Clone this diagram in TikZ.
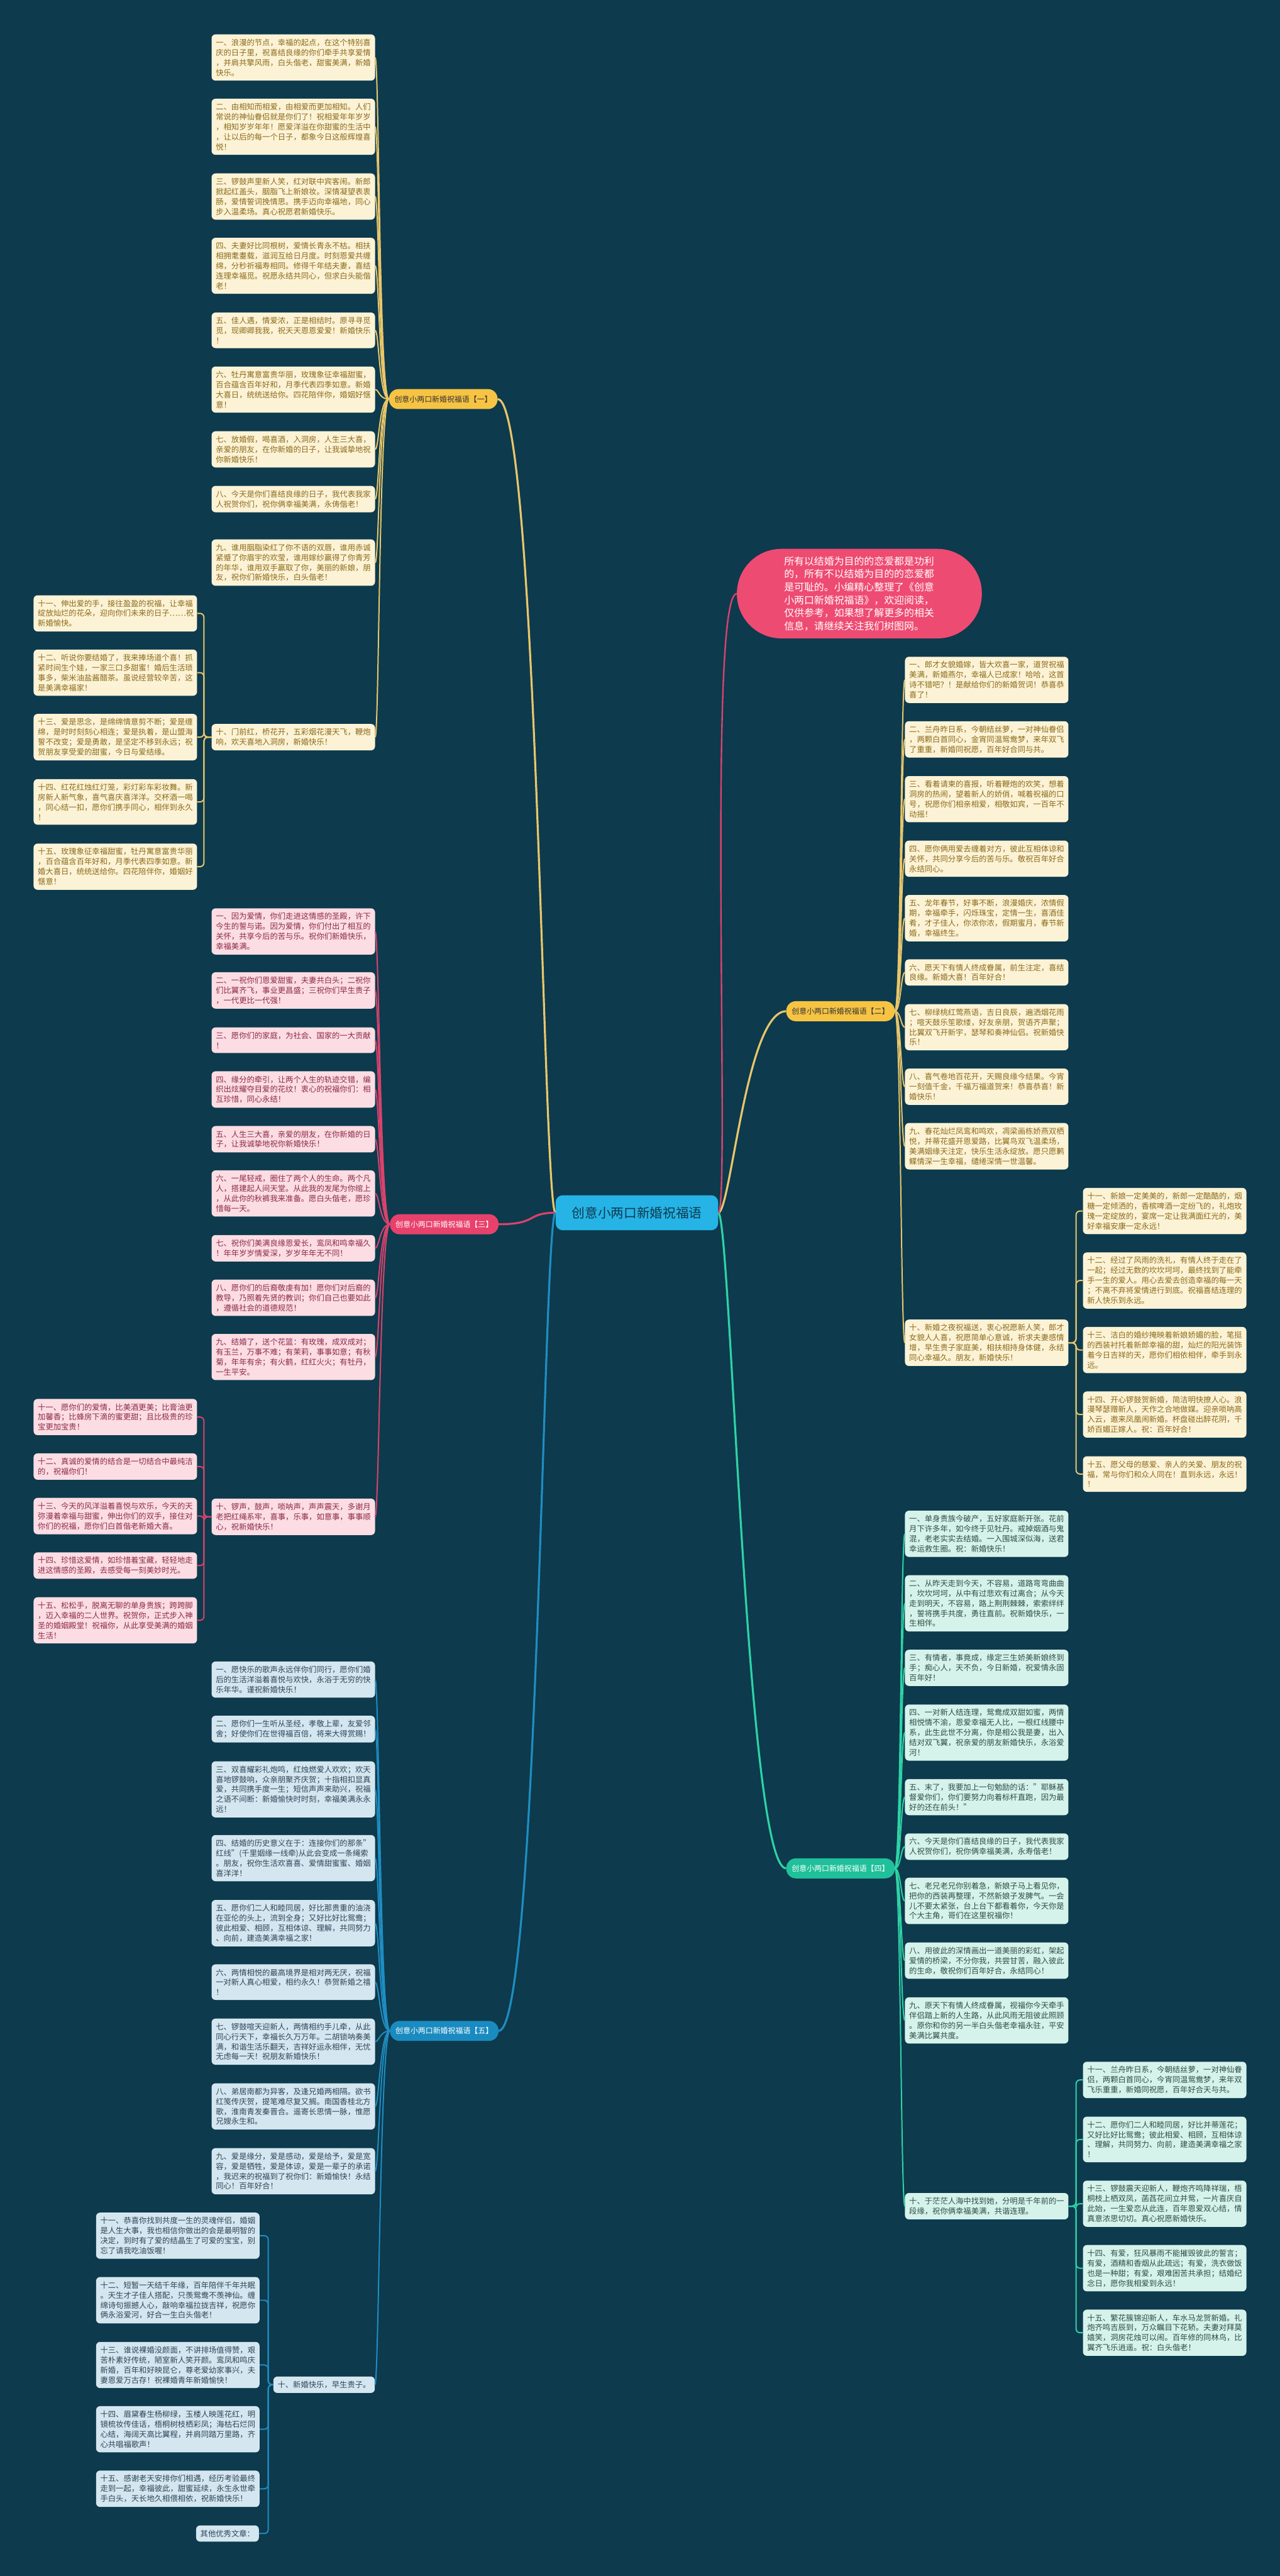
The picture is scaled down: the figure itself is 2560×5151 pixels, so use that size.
\documentclass[tikz,border=0pt]{standalone}
\usepackage{fontspec}
\setmainfont{Noto Sans CJK SC}
\definecolor{bg}{HTML}{0D3A4D}
\definecolor{fillY}{HTML}{FCF3D6}\definecolor{txtY}{HTML}{8C6A1A}\definecolor{conY}{HTML}{E9C66A}\definecolor{nodeY}{HTML}{F6C343}
\definecolor{fillP}{HTML}{FBDDE3}\definecolor{txtP}{HTML}{8E2A47}\definecolor{conP}{HTML}{D9436C}\definecolor{nodeP}{HTML}{E8426C}
\definecolor{fillG}{HTML}{D5F3EB}\definecolor{txtG}{HTML}{2F4B45}\definecolor{conG}{HTML}{2ED3A6}\definecolor{nodeG}{HTML}{1FC09A}
\definecolor{fillB}{HTML}{D4E7F0}\definecolor{txtB}{HTML}{2E4457}\definecolor{conB}{HTML}{1F8DC2}\definecolor{nodeB}{HTML}{1A8BC0}
\definecolor{ctrC}{HTML}{26B3E6}\definecolor{introP}{HTML}{EE4B72}
\tikzset{
 leaf/.style={rounded corners=8pt, text width=310pt, inner xsep=8.5pt, inner ysep=9pt, align=left, font=\fontsize{15.5}{20}\selectfont, anchor=west},
 shortleaf/.style={rounded corners=8pt, inner xsep=8.5pt, inner ysep=9pt, font=\fontsize{15.5}{20}\selectfont},
 lY/.style={leaf, fill=fillY, text=txtY}, lP/.style={leaf, fill=fillP, text=txtP},
 lG/.style={leaf, fill=fillG, text=txtG}, lB/.style={leaf, fill=fillB, text=txtB},
 branch/.style={rounded corners=19pt, minimum height=40pt, inner xsep=11pt, font=\fontsize{15}{18}\selectfont},
 cY/.style={draw=conY, line width=2.5pt}, cP/.style={draw=conP, line width=2.5pt},
 cG/.style={draw=conG, line width=2.5pt}, cB/.style={draw=conB, line width=2.5pt},
 bkY/.style={cY, rounded corners=8pt}, bkP/.style={cP, rounded corners=8pt},
 bkG/.style={cG, rounded corners=8pt}, bkB/.style={cB, rounded corners=8pt},
}
\begin{document}
\begin{tikzpicture}[x=1pt,y=-1pt]
\fill[bg] (0,0) rectangle (2560,5151);
\useasboundingbox (0,0) rectangle (2560,5151);
% center
\node[fill=ctrC, rounded corners=14pt, minimum width=325pt, minimum height=70pt, font=\fontsize{26}{30}\selectfont, text=bg] (ctr) at (1274,2425) {创意小两口新婚祝福语};
% intro
\node[fill=introP, rounded corners=89pt, minimum width=490pt, minimum height=179pt, text width=301pt, align=left, text=white, font=\fontsize{20}{26}\selectfont] (intro) at (1719,1187) {所有以结婚为目的的恋爱都是功利\\的，所有不以结婚为目的的恋爱都\\是可耻的。小编精心整理了《创意\\小两口新婚祝福语》，欢迎阅读，\\仅供参考，如果想了解更多的相关\\信息，请继续关注我们树图网。};
% branches
\node[branch, fill=nodeY, text=black!80, anchor=west] (b1) at (778,798) {创意小两口新婚祝福语【一】};
\node[branch, fill=nodeY, text=black!80, anchor=east] (b2) at (1790,2022) {创意小两口新婚祝福语【二】};
\node[branch, fill=nodeP, text=white, anchor=west] (b3) at (780,2448) {创意小两口新婚祝福语【三】};
\node[branch, fill=nodeG, text=white, anchor=east] (b4) at (1790,3736) {创意小两口新婚祝福语【四】};
\node[branch, fill=nodeB, text=white, anchor=west] (b5) at (780,4061) {创意小两口新婚祝福语【五】};
% center connectors
\draw[cY, line width=4pt] (ctr.west) .. controls +(-25,0) and +(80,0) .. (b1.east);
\draw[cP, line width=4pt] (ctr.west) .. controls +(-60,0) and +(80,0) .. (b3.east);
\draw[cB, line width=4pt] (ctr.west) .. controls +(-25,0) and +(80,0) .. (b5.east);
\draw[cY, line width=4pt] (ctr.east) .. controls +(25,0) and +(-80,0) .. (b2.west);
\draw[cG, line width=4pt] (ctr.east) .. controls +(25,0) and +(-80,0) .. (b4.west);
\draw[cP, line width=3pt] (ctr.east) .. controls +(25,0) and +(-60,0) .. (intro.west);

% ===== branch 1
\node[lY] (a1) at (423,115) {一、浪漫的节点，幸福的起点，在这个特别喜\\庆的日子里，祝喜结良缘的你们牵手共享爱情\\，并肩共擎风雨，白头偕老，甜蜜美满，新婚\\快乐。};
\node[lY] (a2) at (423,253.5) {二、由相知而相爱，由相爱而更加相知。人们\\常说的神仙眷侣就是你们了！祝相爱年年岁岁\\，相知岁岁年年！愿爱洋溢在你甜蜜的生活中\\，让以后的每一个日子，都象今日这般辉煌喜\\悦！};
\node[lY] (a3) at (423,393) {三、锣鼓声里新人笑，红对联中宾客闹。新郎\\掀起红盖头，胭脂飞上新娘妆。深情凝望表衷\\肠，爱情誓词挽情思。携手迈向幸福地，同心\\步入温柔场。真心祝愿君新婚快乐。};
\node[lY] (a4) at (423,531.5) {四、夫妻好比同根树，爱情长青永不枯。相扶\\相拥耄耋载，滋润互给日月度。时刻恩爱共缠\\绵，分秒祈福寿相同。修得千年结夫妻，喜结\\连理幸福觅。祝愿永结共同心，但求白头能偕\\老！};
\node[lY] (a5) at (423,660.5) {五、佳人遇，情爱浓，正是相结时。原寻寻觅\\觅，现卿卿我我，祝天天恩恩爱爱！新婚快乐\\！};
\node[lY] (a6) at (423,779) {六、牡丹寓意富贵华丽，玫瑰象征幸福甜蜜，\\百合蕴含百年好和，月季代表四季如意。新婚\\大喜日，统统送给你。四花陪伴你，婚姻好惬\\意！};
\node[lY] (a7) at (423,898.5) {七、放婚假，喝喜酒，入洞房，人生三大喜，\\亲爱的朋友，在你新婚的日子，让我诚挚地祝\\你新婚快乐！};
\node[lY] (a8) at (423,998) {八、今天是你们喜结良缘的日子，我代表我家\\人祝贺你们，祝你俩幸福美满，永俦偕老！};
\node[lY] (a9) at (423,1125) {九、谁用胭脂染红了你不语的双唇，谁用赤诚\\紧蹙了你眉宇的欢莹，谁用嫁纱赢得了你青芳\\的年华，谁用双手赢取了你，美丽的新娘，朋\\友，祝你们新婚快乐，白头偕老！};
\node[lY] (a10) at (423,1474) {十、门前红，桥花开，五彩烟花漫天飞，鞭炮\\响，欢天喜地入洞房，新婚快乐！};
\foreach \n in {a1,a2,a3,a4,a5,a6,a7,a8,a9,a10}
  \draw[cY] (b1.west) .. controls +(-20,0) and +(8,0) .. (\n.east);
\node[lY] (a11) at (67,1226.5) {十一、伸出爱的手，接往盈盈的祝福，让幸福\\绽放灿烂的花朵，迎向你们未来的日子……祝\\新婚愉快。};
\node[lY] (a12) at (67,1345) {十二、听说你要结婚了，我来捧场道个喜！抓\\紧时间生个娃，一家三口多甜蜜！婚后生活琐\\事多，柴米油盐酱醋茶。虽说经营较辛苦，这\\是美满幸福家！};
\node[lY] (a13) at (67,1474) {十三、爱是思念，是绵绵情意剪不断；爱是缠\\绵，是时时刻刻心相连；爱是执着，是山盟海\\誓不改变；爱是勇敢，是坚定不移到永远；祝\\贺朋友享受爱的甜蜜，今日与爱结缘。};
\node[lY] (a14) at (67,1603.5) {十四、红花红烛红灯笼，彩灯彩车彩妆舞。新\\房新人新气象，喜气喜庆喜洋洋。交杯酒一喝\\，同心结一扣，愿你们携手同心，相伴到永久\\！};
\node[lY] (a15) at (67,1733) {十五、玫瑰象征幸福甜蜜，牡丹寓意富贵华丽\\，百合蕴含百年好和，月季代表四季如意。新\\婚大喜日，统统送给你。四花陪伴你，婚姻好\\惬意！};
\foreach \n in {a11,a12,a13,a14,a15}
  \draw[bkY] (a10.west) -- ++(-15,0) |- (\n.east);

% ===== branch 2
\node[lY] (c1) at (1810,1359.5) {一、郎才女貌婚嫁，皆大欢喜一家，道贺祝福\\美满，新婚燕尔，幸福人已成家！哈哈，这首\\诗不错吧？！是献给你们的新婚贺词！恭喜恭\\喜了！};
\node[lY] (c2) at (1810,1478.5) {二、兰舟昨日系，今朝结丝萝，一对神仙眷侣\\，两颗白首同心，金宵同温鸳鸯梦，来年双飞\\了重重，新婚同祝愿，百年好合同与共。};
\node[lY] (c3) at (1810,1598) {三、看着请柬的喜报，听着鞭炮的欢笑，想着\\洞房的热闹，望着新人的娇俏，喊着祝福的口\\号，祝愿你们相亲相爱，相敬如宾，一百年不\\动摇！};
\node[lY] (c4) at (1810,1717) {四、愿你俩用爱去缠着对方，彼此互相体谅和\\关怀，共同分享今后的苦与乐。敬祝百年好合\\永结同心。};
\node[lY] (c5) at (1810,1836) {五、龙年春节，好事不断，浪漫婚庆，浓情假\\期，幸福牵手，闪烁珠宝，定情一生，喜酒佳\\肴，才子佳人，你浓你浓，假期蜜月，春节新\\婚，幸福终生。};
\node[lY] (c6) at (1810,1944.5) {六、愿天下有情人终成眷属，前生注定，喜结\\良缘。新婚大喜！百年好合！};
\node[lY] (c7) at (1810,2054) {七、柳绿桃红莺燕语，吉日良辰，遍洒烟花雨\\；喧天鼓乐笙歌缕，好友亲朋，贺语齐声聚；\\比翼双飞开新宇，瑟琴和奏神仙侣。祝新婚快\\乐！};
\node[lY] (c8) at (1810,2173) {八、喜气卷地百花开，天赐良缘今结果。今宵\\一刻值千金，千福万福道贺来！恭喜恭喜！新\\婚快乐！};
\node[lY] (c9) at (1810,2292) {九、春花灿烂凤鸾和鸣欢，凋梁画栋娇燕双栖\\悦，并蒂花盛开恩爱路，比翼鸟双飞温柔场，\\美满姻缘天注定，快乐生活永绽放。愿只愿鹣\\鲽情深一生幸福，缱绻深情一世温馨。};
\node[lY] (c10) at (1810,2685) {十、新婚之夜祝福送，衷心祝愿新人笑，郎才\\女貌人人喜，祝愿简单心意诚，祈求夫妻感情\\增，早生贵子家庭美，相扶相持身体健，永结\\同心幸福久。朋友，新婚快乐！};
\foreach \n in {c1,c2,c3,c4,c5,c6,c7,c8,c9,c10}
  \draw[cY] (b2.east) .. controls +(12,0) and +(-8,0) .. (\n.west);
\node[lY] (c11) at (2166,2421.5) {十一、新娘一定美美的，新郎一定酷酷的，烟\\糖一定倾洒的，香槟啤酒一定纷飞的，礼炮玫\\瑰一定绽放的，宴席一定让我满面红光的，美\\好幸福安康一定永远！};
\node[lY] (c12) at (2166,2560.5) {十二、经过了风雨的洗礼，有情人终于走在了\\一起；经过无数的坎坎坷坷，最终找到了能牵\\手一生的爱人。用心去爱去创造幸福的每一天\\；不离不弃将爱情进行到底。祝福喜结连理的\\新人快乐到永远。};
\node[lY] (c13) at (2166,2699.5) {十三、洁白的婚纱掩映着新娘娇媚的脸，笔挺\\的西装衬托着新郎幸福的甜，灿烂的阳光装饰\\着今日吉祥的天，愿你们相依相伴，牵手到永\\远。};
\node[lY] (c14) at (2166,2828.5) {十四、开心锣鼓贺新婚，简洁明快撩人心。浪\\漫琴瑟赠新人，天作之合地做媒。迎亲唢呐高\\入云，邀来凤凰闹新婚。杯盘碰出醉花阴，千\\娇百媚正嫁人。祝：百年好合！};
\node[lY] (c15) at (2166,2947.5) {十五、愿父母的慈爱、亲人的关爱、朋友的祝\\福，常与你们和众人同在！直到永远，永远！\\！};
\foreach \n in {c11,c12,c13,c14,c15}
  \draw[bkY] (c10.east) -- ++(15,0) |- (\n.west);

% ===== branch 3
\node[lP] (d1) at (423,1862.5) {一、因为爱情，你们走进这情感的圣殿，许下\\今生的誓与诺。因为爱情，你们付出了相互的\\关怀，共享今后的苦与乐。祝你们新婚快乐，\\幸福美满。};
\node[lP] (d2) at (423,1980.5) {二、一祝你们恩爱甜蜜，夫妻共白头；二祝你\\们比翼齐飞，事业更昌盛；三祝你们早生贵子\\，一代更比一代强！};
\node[lP] (d3) at (423,2080) {三、愿你们的家庭，为社会、国家的一大贡献\\！};
\node[lP] (d4) at (423,2178.5) {四、缘分的牵引，让两个人生的轨迹交错，编\\织出炫耀夺目爱的花纹！衷心的祝福你们：相\\互珍惜，同心永结！};
\node[lP] (d5) at (423,2278) {五、人生三大喜，亲爱的朋友，在你新婚的日\\子，让我诚挚地祝你新婚快乐！};
\node[lP] (d6) at (423,2386.5) {六、一尾轻戒，圈住了两个人的生命。两个凡\\人，搭建起人间天堂。从此我的发尾为你绾上\\，从此你的秋裤我来准备。愿白头偕老，愿珍\\惜每一天。};
\node[lP] (d7) at (423,2496) {七、祝你们美满良缘恩爱长，鸾凤和鸣幸福久\\！年年岁岁情爱深，岁岁年年无不同！};
\node[lP] (d8) at (423,2595) {八、愿你们的后裔敬虔有加！愿你们对后裔的\\教导，乃照着先贤的教训；你们自己也要如此\\，遵循社会的道德规范！};
\node[lP] (d9) at (423,2713.5) {九、结婚了，送个花篮：有玫瑰，成双成对；\\有玉兰，万事不难；有茉莉，事事如意；有秋\\菊，年年有余；有火鹤，红红火火；有牡丹，\\一生平安。};
\node[lP] (d10) at (423,3033) {十、锣声，鼓声，唢呐声，声声震天，多谢月\\老把红绳系牢，喜事，乐事，如意事，事事顺\\心，祝新婚快乐！};
\foreach \n in {d1,d2,d3,d4,d5,d6,d7,d8,d9,d10}
  \draw[cP] (b3.west) .. controls +(-20,0) and +(8,0) .. (\n.east);
\node[lP] (d11) at (67,2833.5) {十一、愿你们的爱情，比美酒更美；比膏油更\\加馨香；比蜂房下滴的蜜更甜；且比极贵的珍\\宝更加宝贵！};
\node[lP] (d12) at (67,2932.5) {十二、真诚的爱情的结合是一切结合中最纯洁\\的，祝福你们！};
\node[lP] (d13) at (67,3031.5) {十三、今天的风洋溢着喜悦与欢乐，今天的天\\弥漫着幸福与甜蜜，伸出你们的双手，接住对\\你们的祝福，愿你们白首偕老新婚大喜。};
\node[lP] (d14) at (67,3130.5) {十四、珍惜这爱情，如珍惜着宝藏，轻轻地走\\进这情感的圣殿，去感受每一刻美妙时光。};
\node[lP] (d15) at (67,3240) {十五、松松手，脱离无聊的单身贵族；跨跨脚\\，迈入幸福的二人世界。祝贺你，正式步入神\\圣的婚姻殿堂！祝福你，从此享受美满的婚姻\\生活！};
\foreach \n in {d11,d12,d13,d14,d15}
  \draw[bkP] (d10.west) -- ++(-15,0) |- (\n.east);

% ===== branch 4
\node[lG] (e1) at (1810,3067) {一、单身贵族今破产，五好家庭新开张。花前\\月下许多年，如今终于见牡丹。戒掉烟酒与鬼\\混，老老实实去结婚。一入围城深似海，送君\\幸运救生圈。祝：新婚快乐！};
\node[lG] (e2) at (1810,3206) {二、从昨天走到今天，不容易，道路弯弯曲曲\\，坎坎坷坷，从中有过悲欢有过离合；从今天\\走到明天，不容易，路上荆荆棘棘，索索绊绊\\，誓将携手共度，勇往直前。祝新婚快乐，一\\生相伴。};
\node[lG] (e3) at (1810,3335) {三、有情者，事竟成，缘定三生娇美新娘终到\\手；痴心人，天不负，今日新婚，祝爱情永固\\百年好！};
\node[lG] (e4) at (1810,3464.5) {四、一对新人结连理，鸳鸯成双甜如蜜，两情\\相悦情不渝，恩爱幸福无人比，一根红线腰中\\系，此生此世不分离，你是相公我是妻，出入\\结对双飞翼，祝亲爱的朋友新婚快乐，永浴爱\\河！};
\node[lG] (e5) at (1810,3593.5) {五、末了，我要加上一句勉励的话："耶稣基\\督爱你们，你们要努力向着标杆直跑，因为最\\好的还在前头！"};
\node[lG] (e6) at (1810,3692.5) {六、今天是你们喜结良缘的日子，我代表我家\\人祝贺你们，祝你俩幸福美满，永寿偕老！};
\node[lG] (e7) at (1810,3801) {七、老兄老兄你别着急，新娘子马上看见你，\\把你的西装再整理，不然新娘子发脾气。一会\\儿不要太紧张，台上台下都看着你，今天你是\\个大主角，哥们在这里祝福你！};
\node[lG] (e8) at (1810,3920.5) {八、用彼此的深情画出一道美丽的彩虹，架起\\爱情的桥梁，不分你我，共尝甘苦，融入彼此\\的生命，敬祝你们百年好合，永结同心！};
\node[lG] (e9) at (1810,4040) {九、原天下有情人终成眷属，视福你今天牵手\\伴侣踏上新的人生路，从此风雨无阻彼此照顾\\。原你和你的另一半白头偕老幸福永驻，平安\\美满比翼共度。};
\node[lG] (e10) at (1810,4411.5) {十、于茫茫人海中找到她，分明是千年前的一\\段缘，祝你俩幸福美满，共谐连理。};
\foreach \n in {e1,e2,e3,e4,e5,e6,e7,e8,e9,e10}
  \draw[cG] (b4.east) .. controls +(12,0) and +(-8,0) .. (\n.west);
\node[lG] (e11) at (2166,4159) {十一、兰舟昨日系，今朝结丝萝，一对神仙眷\\侣，两颗白首同心，今宵同温鸳鸯梦，来年双\\飞乐重重，新婚同祝愿，百年好合天与共。};
\node[lG] (e12) at (2166,4278) {十二、愿你们二人和睦同居，好比并蒂莲花；\\又好比好比鸳鸯；彼此相爱、相顾，互相体谅\\、理解，共同努力、向前，建造美满幸福之家\\！};
\node[lG] (e13) at (2166,4406.5) {十三、锣鼓震天迎新人，鞭炮齐鸣降祥瑞，梧\\桐枝上栖双凤，菡萏花间立并鸳，一片喜庆自\\此始，一生爱恋从此连，百年恩爱双心结，情\\真意浓思切切。真心祝愿新婚快乐。};
\node[lG] (e14) at (2166,4535.5) {十四、有爱，狂风暴雨不能摧毁彼此的誓言；\\有爱，酒精和香烟从此疏远；有爱，洗衣做饭\\也是一种甜；有爱，艰难困苦共承担；结婚纪\\念日，愿你我相爱到永远！};
\node[lG] (e15) at (2166,4664.5) {十五、繁花簇锦迎新人，车水马龙贺新婚。礼\\炮齐鸣吉辰到，万众瞩目下花轿。夫妻对拜莫\\嬉笑，洞房花烛可以闹。百年修的同林鸟，比\\翼齐飞乐逍遥。祝：白头偕老！};
\foreach \n in {e11,e12,e13,e14,e15}
  \draw[bkG] (e10.east) -- ++(15,0) |- (\n.west);

% ===== branch 5
\node[lB] (f1) at (423,3358.5) {一、愿快乐的歌声永远伴你们同行，愿你们婚\\后的生活洋溢着喜悦与欢快，永浴于无穷的快\\乐年华。谨祝新婚快乐！};
\node[lB] (f2) at (423,3457.5) {二、愿你们一生听从圣经，孝敬上辈，友爱邻\\舍；好使你们在世得福百倍，将来大得赏赐！};
\node[lB] (f3) at (423,3578) {三、双喜耀彩礼炮鸣，红烛燃爱人欢欢；欢天\\喜地锣鼓响，众亲朋聚齐庆贺；十指相扣显真\\爱，共同携手度一生；短信声声来助兴，祝福\\之语不间断：新婚愉快时时刻，幸福美满永永\\远！};
\node[lB] (f4) at (423,3715.5) {四、结婚的历史意义在于：连接你们的那条"\\红线"(千里姻缘一线牵)从此会变成一条绳索\\。朋友，祝你生活欢喜喜、爱情甜蜜蜜、婚姻\\喜洋洋！};
\node[lB] (f5) at (423,3845.5) {五、愿你们二人和睦同居，好比那贵重的油浇\\在亚伦的头上，流到全身；又好比好比鸳鸯；\\彼此相爱、相顾，互相体谅、理解，共同努力\\、向前，建造美满幸福之家！};
\node[lB] (f6) at (423,3963.5) {六、两情相悦的最高境界是相对两无厌，祝福\\一对新人真心相爱，相约永久！恭贺新婚之禧\\！};
\node[lB] (f7) at (423,4082.5) {七、锣鼓喧天迎新人，两情相约手儿牵，从此\\同心行天下，幸福长久万万年。二胡锁呐奏美\\满，和谐生活乐翻天，吉祥好运永相伴，无忧\\无虑每一天！祝朋友新婚快乐！};
\node[lB] (f8) at (423,4212) {八、弟居南都为异客，及逢兄婚两相隔。欲书\\红笺传庆贺，提笔难尽复又搁。南国香桂北方\\歌，淮南青发秦晋合。遥寄长思情一脉，惟愿\\兄嫂永生和。};
\node[lB] (f9) at (423,4341.5) {九、爱是缘分，爱是感动，爱是给予，爱是宽\\容，爱是牺牲，爱是体谅，爱是一辈子的承诺\\，我迟来的祝福到了祝你们：新婚愉快！永结\\同心！百年好合！};
\node[shortleaf, fill=fillB, text=txtB, anchor=east] (f10) at (750,4768.5) {十、新婚快乐，早生贵子。};
\foreach \n in {f1,f2,f3,f4,f5,f6,f7,f8,f9,f10}
  \draw[cB] (b5.west) .. controls +(-20,0) and +(8,0) .. (\n.east);
\node[lB] (f11) at (192,4470.5) {十一、恭喜你找到共度一生的灵魂伴侣，婚姻\\是人生大事，我也相信你做出的会是最明智的\\决定，到时有了爱的结晶生了可爱的宝宝，别\\忘了请我吃油饭喔！};
\node[lB] (f12) at (192,4599.5) {十二、短暂一天结千年缘，百年陪伴千年共眠\\。天生才子佳人搭配，只羡鸳鸯不羡神仙。缠\\绵诗句振撼人心，敲响幸福拉拢吉祥，祝愿你\\俩永浴爱河，好合一生白头偕老！};
\node[lB] (f13) at (192,4729) {十三、谁说裸婚没颜面，不讲排场值得赞，艰\\苦朴素好传统，陋室新人笑开颜。鸾凤和鸣庆\\新婚，百年和好映昆仑，尊老爱幼家事兴，夫\\妻恩爱万古存！祝裸婚青年新婚愉快！};
\node[lB] (f14) at (192,4857.5) {十四、眉黛春生杨柳绿，玉楼人映莲花红，明\\镜梳妆传佳话，梧桐树枝栖彩凤；海枯石烂同\\心结，海阔天高比翼程，并肩同踏万里路，齐\\心共唱福歌声！};
\node[lB] (f15) at (192,4976.5) {十五、感谢老天安排你们相遇，经历考验最终\\走到一起，幸福彼此，甜蜜延续，永生永世牵\\手白头，天长地久相偎相依，祝新婚快乐！};
\node[shortleaf, fill=fillB, text=txtB, anchor=east] (f16) at (518,5066) {其他优秀文章：};
\foreach \n in {f11,f12,f13,f14,f15,f16}
  \draw[bkB] (f10.west) -- ++(-10,0) |- (\n.east);
\end{tikzpicture}
\end{document}
